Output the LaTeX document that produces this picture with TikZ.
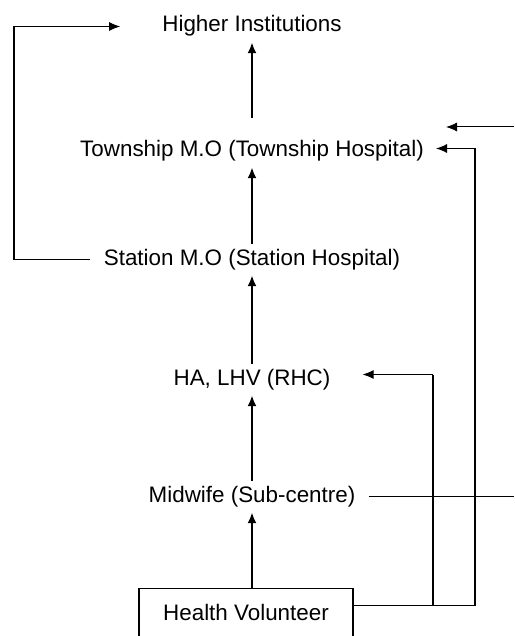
\documentclass[tikz,border=0pt]{standalone}
\usepackage{fontspec}
\setmainfont{Liberation Sans}
\usetikzlibrary{arrows.meta,positioning,calc}
\definecolor{colTrait}{RGB}{0,0,0}

\begin{document}
\begin{tikzpicture}[x=1pt, y=-1pt,
    font=\fontsize{22.4pt}{26pt}\selectfont,
    lvl/.style={inner xsep=6pt, inner ysep=5pt, text height=16pt,
      text depth=5pt},
    vol/.style={draw=colTrait, line width=1.2pt, minimum width=214pt,
      inner ysep=16pt, text height=16pt, text depth=22pt},
    up/.style={-{Latex[length=11pt,width=9pt]}, line width=2.2pt,
      colTrait},
    rail/.style={line width=2.2pt, colTrait},
    fine/.style={line width=1pt, colTrait},
    feed/.style={-{Latex[length=11pt,width=9pt]}, line width=1pt,
      colTrait}]
    \useasboundingbox (0,0) rectangle (514,636);
    \node[lvl] (hi) at (252,26.5) {Higher Institutions};
    \node[lvl] (tw) at (252,151.5) {Township M.O (Township Hospital)};
    \node[lvl] (st) at (252,259.5) {Station M.O (Station Hospital)};
    \node[lvl] (ha) at (252,379.5) {HA, LHV (RHC)};
    \node[lvl] (mw) at (252,496.5) {Midwife (Sub-centre)};
    \node[vol, anchor=north] (hv) at (246,588) {Health Volunteer};
    \coordinate (railL) at (14,0);
    \coordinate (railA) at (433,0);
    \coordinate (railB) at (475,0);
    \coordinate (edgeR) at (514,127);
    \coordinate (hvR) at ([yshift=18pt]hv.east);
    \coordinate (haR) at ([yshift=5pt]ha.east);
    \coordinate (twR) at ([yshift=3pt]tw.east);
    % main chain
    \draw[up] (mw.south |- hv.north) -- (mw.south);
    \draw[up] (mw) -- (ha);
    \draw[up] (ha) -- (st);
    \draw[up] (st) -- (tw);
    \draw[up, shorten <=18pt] (tw) -- (hi);
    % station to higher institutions
    \draw[fine, shorten <=8pt] (st.west) -- (railL |- st.west);
    \draw[rail] (railL |- st.west) -- (railL |- hi.west);
    \draw[feed, shorten >=36pt] (railL |- hi.west) -- (hi.west);
    % volunteer referrals
    \draw[fine] (hvR) -- (railB |- hvR);
    \draw[rail] (railA |- hvR) -- (railA |- haR);
    \draw[feed, shorten >=26pt] (railA |- haR) -- (haR);
    \draw[rail] (railB |- hvR) -- (railB |- twR);
    \draw[feed, shorten >=6pt] (railB |- twR) -- (twR);
    % midwife to township
    \draw[fine, shorten <=7pt] (mw.east) -- (mw.east -| edgeR);
    \draw[feed, shorten >=16pt] (edgeR) -- (tw.east |- edgeR);
  \end{tikzpicture}
\end{document}
